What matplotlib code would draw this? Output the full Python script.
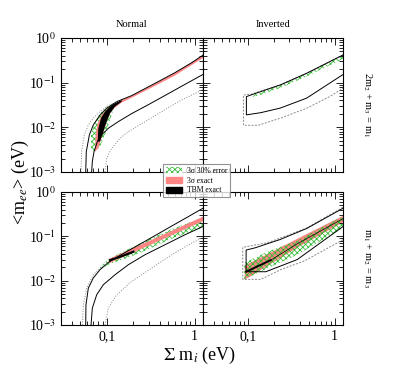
import matplotlib
matplotlib.use("Agg")
import matplotlib.pyplot as plt
from matplotlib.patches import Patch
from matplotlib.ticker import LogLocator, NullFormatter

plt.rcParams['font.family'] = 'serif'
plt.rcParams['font.serif'] = ['Liberation Serif', 'DejaVu Serif']
plt.rcParams['mathtext.fontset'] = 'stix'
plt.rcParams['hatch.linewidth'] = 0.6

# ---- data: (sum of masses [eV], <m_ee> [eV]) ----
# Normal, 2m2 + m3 = m1
nt_up_s = [0.0574, 0.0583, 0.0632, 0.0701, 0.0836, 0.0995, 0.1296, 0.192, 0.355, 0.60, 0.931, 1.26]
nt_up_m = [0.001, 0.00286, 0.00676, 0.0113, 0.0189, 0.0267, 0.0376, 0.0513, 0.0968, 0.168, 0.281, 0.417]
nt_lo_s = [0.0671, 0.0683, 0.0714, 0.078, 0.0873, 0.104, 0.135, 0.192, 0.298, 0.503, 0.781, 1.26]
nt_lo_m = [0.001, 0.00171, 0.00286, 0.0048, 0.00676, 0.00953, 0.0134, 0.0203, 0.0322, 0.0568, 0.0919, 0.154]
nt_dup_s = [0.0507, 0.0516, 0.0553, 0.0615, 0.0701, 0.0836, 0.0995, 0.1296]
nt_dup_m = [0.001, 0.00286, 0.00676, 0.0113, 0.016, 0.0225, 0.0291, 0.0376]
nt_dlo_s = [0.0953, 0.0995, 0.1135, 0.1414, 0.176, 0.273, 0.423, 0.655, 1.26]
nt_dlo_m = [0.001, 0.00203, 0.0034, 0.00569, 0.00802, 0.0134, 0.0225, 0.0376, 0.0711]
grn_nt_s = [0.066, 0.066, 0.072, 0.0836, 0.0995, 0.1186, 0.124, 0.1135, 0.104, 0.0953, 0.0836, 0.0733]
grn_nt_m = [0.00312, 0.00676, 0.0123, 0.0206, 0.0291, 0.0345, 0.0317, 0.0189, 0.0113, 0.00676, 0.0037, 0.00286]
red_nt_s = [0.0733, 0.0746, 0.0786, 0.0873, 0.104, 0.148, 0.192, 0.355, 0.60, 1.26,
            1.26, 0.60, 0.355, 0.192, 0.148, 0.119, 0.109, 0.0995, 0.0912, 0.080]
red_nt_m = [0.00286, 0.00676, 0.0123, 0.0189, 0.0276, 0.0405, 0.0505, 0.095, 0.165, 0.41,
            0.36, 0.145, 0.085, 0.046, 0.036, 0.0262, 0.0206, 0.0134, 0.00802, 0.0034]
tbm_nt_s = [0.0786, 0.080, 0.0858, 0.0953, 0.1135, 0.1478, 0.1478, 0.124, 0.1086, 0.0995, 0.0912, 0.0836]
tbm_nt_m = [0.0048, 0.00953, 0.016, 0.0225, 0.0317, 0.041, 0.0376, 0.0291, 0.0206, 0.0134, 0.00802, 0.0048]

# Inverted, 2m2 + m3 = m1
it_sol_s = [1.25, 0.474, 0.235, 0.122, 0.0953, 0.0953, 0.14, 0.235, 0.474, 1.25]
it_sol_m = [0.417, 0.162, 0.0889, 0.0578, 0.0487, 0.019, 0.0213, 0.027, 0.045, 0.152]
it_das_s = [1.25, 0.474, 0.235, 0.11, 0.0881, 0.0881, 0.13, 0.235, 0.474, 0.875, 1.25]
it_das_m = [0.417, 0.162, 0.0889, 0.0555, 0.0531, 0.0111, 0.0111, 0.016, 0.0267, 0.0487, 0.0748]
grn_it_s = [0.1146, 0.235, 0.474, 1.25]
grn_it_up = [0.0535, 0.086, 0.157, 0.405]
grn_it_lo = [0.047, 0.076, 0.138, 0.34]

# Normal, m1 + m2 = m3
nb_up_s = [0.0574, 0.0578, 0.0615, 0.0701, 0.0836, 0.104, 0.135, 0.229, 0.355, 0.55, 0.852, 1.26]
nb_up_m = [0.001, 0.00286, 0.0068, 0.0115, 0.0177, 0.0258, 0.0353, 0.0636, 0.104, 0.171, 0.279, 0.435]
nb_lo_s = [0.066, 0.0683, 0.0766, 0.0912, 0.124, 0.176, 0.273, 0.461, 0.781, 1.26]
nb_lo_m = [0.001, 0.0024, 0.00481, 0.0081, 0.0136, 0.0229, 0.0385, 0.0647, 0.1089, 0.168]
nb_dup_s = [0.0525, 0.054, 0.0589, 0.0701, 0.0836, 0.104]
nb_dup_m = [0.001, 0.00286, 0.0068, 0.0136, 0.0193, 0.026]
nb_dlo_s = [0.0953, 0.104, 0.1296, 0.192, 0.325, 0.55, 0.931, 1.26]
nb_dlo_m = [0.001, 0.0024, 0.00481, 0.00963, 0.0193, 0.0385, 0.0706, 0.0948]
grn_nb_s = [0.0836, 0.104, 0.229, 0.55, 1.26]
grn_nb_up = [0.02, 0.0308, 0.067, 0.146, 0.268]
grn_nb_lo = [0.0177, 0.0229, 0.0406, 0.0884, 0.162]
red_nb_s = [0.104, 0.229, 0.55, 1.26]
red_nb_up = [0.0316, 0.0635, 0.138, 0.29]
red_nb_lo = [0.0252, 0.0506, 0.110, 0.231]
tbm_nb_s = [0.1087, 0.15, 0.2008]
tbm_nb_m = [0.029, 0.036, 0.0449]

# Inverted, m1 + m2 = m3
ib_sol_s = [1.25, 0.474, 0.235, 0.12, 0.0946, 0.0946, 0.16, 0.37, 1.25]
ib_sol_m = [0.43, 0.15, 0.085, 0.055, 0.049, 0.0159, 0.0159, 0.03, 0.166]
ib_das_s = [1.25, 0.474, 0.235, 0.167, 0.0865, 0.0865, 0.14, 0.235, 0.45, 1.25]
ib_das_m = [0.451, 0.154, 0.0916, 0.0718, 0.0565, 0.0107, 0.0107, 0.0176, 0.028, 0.0839]
grn_ib_s = [0.09, 0.167, 0.37, 1.25]
grn_ib_up = [0.025, 0.045, 0.08, 0.285]
grn_ib_lo = [0.0107, 0.019, 0.0385, 0.155]
red_ib_s = [0.09, 0.167, 0.37, 1.25]
red_ib_up = [0.0225, 0.0412, 0.0916, 0.30]
red_ib_lo = [0.0107, 0.0225, 0.058, 0.215]
tbm_ib_s = [0.0946, 0.182]
tbm_ib_m = [0.0159, 0.029]
tbm_ib2_s = [0.182, 0.37, 1.25]
tbm_ib2_m = [0.029, 0.068, 0.25]

yticks = [1e-3, 1e-2, 1e-1, 1]
ylabels = ['10$^{-3}$', '10$^{-2}$', '10$^{-1}$', '10$^{0}$']
xticks = [0.1, 1]
xlabels = ['0,1', '1']

GREEN = '#33bb33'
RED = '#ff8585'
GREY = '#888888'

W, H = 404, 382
fig = plt.figure(figsize=(W / 100, H / 100), dpi=100)
ax_nt = fig.add_axes([61 / W, 1 - 172 / H, 142 / W, 134 / H])
ax_it = fig.add_axes([203 / W, 1 - 172 / H, 140 / W, 134 / H])
ax_nb = fig.add_axes([61 / W, 1 - 325 / H, 142 / W, 133 / H])
ax_ib = fig.add_axes([203 / W, 1 - 325 / H, 140 / W, 133 / H])

hatch_kw = dict(facecolor='none', edgecolor=GREEN, hatch='xxxxxx', linewidth=0)

# top left
ax = ax_nt
ax.fill(grn_nt_s, grn_nt_m, **hatch_kw)
ax.fill(red_nt_s, red_nt_m, color=RED, lw=0)
ax.fill(tbm_nt_s, tbm_nt_m, color='black', lw=0)
ax.plot(nt_up_s, nt_up_m, color='black', lw=0.7)
ax.plot(nt_lo_s, nt_lo_m, color='black', lw=0.7)
ax.plot(nt_dup_s, nt_dup_m, color=GREY, lw=0.7, ls=':')
ax.plot(nt_dlo_s, nt_dlo_m, color=GREY, lw=0.7, ls=':')

# top right
ax = ax_it
ax.fill_between(grn_it_s, grn_it_lo, grn_it_up, **hatch_kw)
ax.plot(it_das_s, it_das_m, color=GREY, lw=0.7, ls=(0, (2, 1.5)))
ax.plot(it_sol_s, it_sol_m, color='black', lw=0.7)

# bottom left
ax = ax_nb
ax.fill_between(grn_nb_s, grn_nb_lo, grn_nb_up, **hatch_kw)
ax.fill_between(red_nb_s, red_nb_lo, red_nb_up, color=RED, lw=0)
ax.plot(tbm_nb_s, tbm_nb_m, color='black', lw=1.6)
ax.plot(nb_up_s, nb_up_m, color='black', lw=0.7)
ax.plot(nb_lo_s, nb_lo_m, color='black', lw=0.7)
ax.plot(nb_dup_s, nb_dup_m, color=GREY, lw=0.7, ls=':')
ax.plot(nb_dlo_s, nb_dlo_m, color=GREY, lw=0.7, ls=':')

# bottom right
ax = ax_ib
ax.fill_between(red_ib_s, red_ib_lo, red_ib_up, color=RED, lw=0)
ax.fill_between(grn_ib_s, grn_ib_lo, grn_ib_up, **hatch_kw)
ax.plot(tbm_ib_s, tbm_ib_m, color='black', lw=1.4)
ax.plot(tbm_ib2_s, tbm_ib2_m, color='black', lw=0.5)
ax.plot(ib_das_s, ib_das_m, color=GREY, lw=0.7, ls=(0, (2, 1.5)))
ax.plot(ib_sol_s, ib_sol_m, color='black', lw=0.7)

for ax in [ax_nt, ax_it, ax_nb, ax_ib]:
    ax.set_xscale('log')
    ax.set_yscale('log')
    ax.set_xlim(0.03, 1.25)
    ax.set_ylim(1e-3, 1)
    ax.set_xticks(xticks)
    ax.xaxis.set_minor_locator(LogLocator(base=10, subs=range(2, 10)))
    ax.xaxis.set_minor_formatter(NullFormatter())
    ax.set_yticks(yticks)
    ax.yaxis.set_minor_locator(LogLocator(base=10, subs=range(2, 10)))
    ax.yaxis.set_minor_formatter(NullFormatter())
    ax.tick_params(which='both', direction='in', top=True, right=True, width=0.6)
    ax.tick_params(which='major', length=5, labelsize=10)
    ax.tick_params(which='minor', length=3)
    for sp in ax.spines.values():
        sp.set_linewidth(0.8)

for ax in [ax_nt, ax_nb]:
    ax.set_yticklabels(ylabels)
for ax in [ax_it, ax_ib]:
    ax.set_yticklabels([])
for ax in [ax_nb, ax_ib]:
    ax.set_xticklabels(xlabels)
for ax in [ax_nt, ax_it]:
    ax.set_xticklabels([])

ax_nt.set_title('Normal', fontsize=7.5, pad=8)
ax_it.set_title('Inverted', fontsize=7.5, pad=8)
ax_it.text(1.13, 0.5, '2m$_2$ + m$_3$ = m$_1$', transform=ax_it.transAxes,
           rotation=270, ha='left', va='center', fontsize=7.5)
ax_ib.text(1.13, 0.5, 'm$_1$ + m$_2$ = m$_3$', transform=ax_ib.transAxes,
           rotation=270, ha='left', va='center', fontsize=7.5)

fig.text(20 / W, 1 - 182 / H, '<m$_{ee}$> (eV)', rotation=90, ha='center', va='center', fontsize=13)
fig.text(200 / W, 1 - 355 / H, '$\\Sigma$ m$_i$ (eV)', ha='center', va='center', fontsize=13)

handles = [Patch(facecolor='white', edgecolor=GREEN, hatch='xxxxxx', linewidth=0),
           Patch(facecolor=RED, edgecolor=RED),
           Patch(facecolor='black', edgecolor='black')]
leg = fig.legend(handles, ['3σ 30% error', '3σ exact', 'TBM exact'],
                 loc='upper left', bbox_to_anchor=(163 / W, 1 - 164 / H), fontsize=5.5,
                 frameon=True, fancybox=False, borderaxespad=0, handlelength=2.2,
                 handleheight=0.8, labelspacing=0.25, borderpad=0.35, handletextpad=0.6)
leg.get_frame().set_edgecolor('#777777')
leg.get_frame().set_linewidth(0.8)

fig.savefig('out.png', dpi=100)
